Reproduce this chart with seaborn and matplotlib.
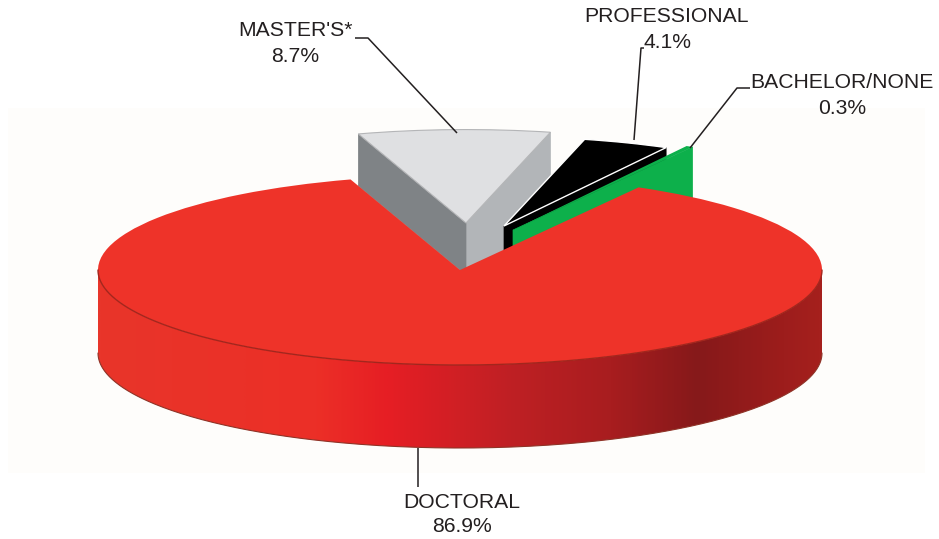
import numpy as np
import matplotlib.pyplot as plt
import seaborn as sns
from matplotlib.colors import LinearSegmentedColormap
from matplotlib.patches import Polygon, Rectangle

sns.set_theme(style='white')
plt.rcParams['font.family'] = ['Liberation Sans', 'DejaVu Sans']

categories = ['DOCTORAL', 'BACHELOR/NONE', 'PROFESSIONAL', "MASTER'S*"]
shares = [86.9, 0.3, 4.1, 8.7]
slice_colors = ['#ee3329', '#0db04b', '#000000', '#dfe0e2']

# picture is laid out in pixels, pie is squashed by this factor
SQUASH = 95 / 362


def py(y):
    return (539 - y) / SQUASH


def face(ax, wedge, angle, depth, color, zorder):
    # radial side of an extruded slice
    cx, cy = wedge.center
    r = wedge.r
    a = np.radians(angle)
    tip = (cx + r * np.cos(a), cy + r * np.sin(a))
    d = depth / SQUASH
    pts = [(cx, cy), tip, (tip[0], tip[1] - d), (cx, cy - d)]
    ax.add_patch(Polygon(pts, closed=True, fc=color, ec=color, lw=0.5, zorder=zorder))


fig = plt.figure(figsize=(9.39, 5.39), dpi=100)
ax = fig.add_axes([0, 0, 1, 1])

wedges, _ = ax.pie(shares, colors=slice_colors, startangle=107.6, radius=362,
                   wedgeprops={'linewidth': 0})
doctoral, bachelor, professional, masters = wedges

cx, cy, R, rim = 460, 270, 362, 83
doctoral.set_center((cx, py(cy)))
doctoral.set_zorder(6)

# the big slice is drawn last so it trims the bottoms of these faces
masters.set_center((466, py(223)))
masters.set_radius(356)
masters.set_zorder(3)
masters.set_edgecolor('#b4b5b7')
masters.set_linewidth(0.8)
face(ax, masters, masters.theta1, 70, '#b2b5b8', 2)
face(ax, masters, masters.theta2, 52, '#7f8386', 2.5)

professional.set_center((504, py(226)))
professional.set_radius(340)
professional.set_zorder(4)
professional.set_edgecolor('#ffffff')
professional.set_linewidth(1.0)
face(ax, professional, professional.theta1, 30, '#000000', 3.5)

bachelor.set_center((513, py(230)))
bachelor.set_radius(364)
bachelor.set_zorder(5)
face(ax, bachelor, bachelor.theta1, 60, '#0db04b', 5)

# faint scan background
ax.add_patch(Rectangle((8, py(473)), 917, (473 - 108) / SQUASH, fc='#fefdfb', ec='none', zorder=0))

# rim of the big slice with its shading
t = np.linspace(np.pi, 2 * np.pi, 300)
arc_x = cx + R * np.cos(t)
arc_y = py(cy) + R * np.sin(t)
d = rim / SQUASH
outline = np.r_[np.c_[arc_x, arc_y], np.c_[arc_x[::-1], arc_y[::-1] - d]]
shade = LinearSegmentedColormap.from_list('rim', [
    (0.0, '#e8352a'), (0.30, '#ec2f27'), (0.40, '#e61e24'),
    (0.57, '#bf2024'), (0.71, '#a81d1f'), (0.83, '#86191a'),
    (0.95, '#9d1d1c'), (1.0, '#a5201d')])
img = ax.imshow(np.linspace(0, 1, 400)[None, :], cmap=shade, aspect=SQUASH,
                extent=(cx - R, cx + R, py(cy + 95 + rim), py(cy)), zorder=1)
img.set_clip_path(Polygon(outline, closed=True, transform=ax.transData))
ax.plot(arc_x, arc_y, color='#a3261d', lw=1.0, zorder=7)
ax.plot(arc_x, arc_y - d, color='#8f3327', lw=0.8, zorder=7)

# leader lines
leaders = [
    ([355, 368, 457], [38, 38, 133]),
    ([644, 641, 634], [48, 48, 140]),
    ([750, 737, 690], [88, 88, 148]),
    ([418, 418], [448, 487]),
]
for xs, ys in leaders:
    ax.plot(xs, [py(y) for y in ys], color='#231f20', lw=1.1, zorder=8, solid_capstyle='butt')

text_pos = {
    'DOCTORAL': (462, 503, 527),
    'BACHELOR/NONE': (842, 83, 108),
    'PROFESSIONAL': (667, 16, 42),
    "MASTER'S*": (295, 30, 57),
}
for name, share in zip(categories, shares):
    x, y1, y2 = text_pos[name]
    ax.text(x, py(y1), name, ha='center', va='center', fontsize=15.2, color='#231f20', zorder=9)
    ax.text(x, py(y2), f'{share}%', ha='center', va='center', fontsize=15.2, color='#231f20', zorder=9)

ax.set_xlim(0, 939)
ax.set_ylim(0, 539 / SQUASH)
ax.set_aspect(SQUASH)
ax.set_axis_off()
fig.savefig('out.png', dpi=100)
